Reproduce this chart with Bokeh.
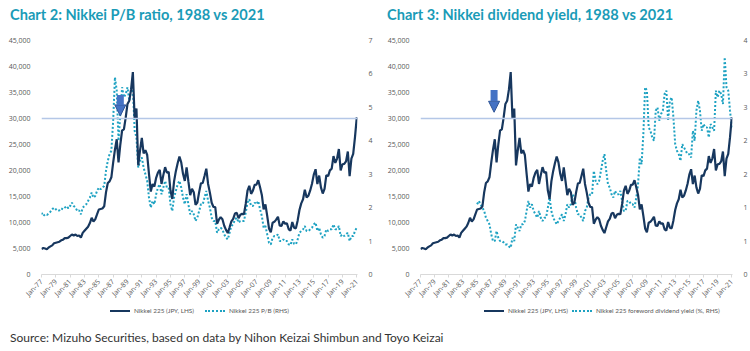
import numpy as np
from bokeh.plotting import figure
from bokeh.models import (Range1d, LinearAxis, FixedTicker, Span, Arrow, NormalHead,
                          Div, NumeralTickFormatter)
from bokeh.layouts import row, column
from bokeh.embed import file_html
from bokeh.resources import INLINE

# ---------------- data (quarterly) ----------------
NIKKEI_START = 1977
nikkei = [
    4900, 5100, 5000, 4870,
    5200, 5400, 5600, 6000,
    6100, 6200, 6300, 6570,
    6700, 7000, 7000, 7100,
    7400, 7700, 7500, 7680,
    7400, 7500, 7100, 8000,
    8400, 8800, 9200, 9900,
    10900, 10200, 10600, 11540,
    12500, 12600, 12700, 13110,
    15800, 17600, 17900, 18700,
    21500, 24000, 26000, 21560,
    25000, 27700, 27900, 30160,
    32800, 33400, 35600, 38915,
    29980, 31940, 20980, 23850,
    26290, 23290, 23900, 22980,
    19350, 15950, 17400, 16920,
    18590, 19590, 20100, 17420,
    19110, 20640, 19560, 19720,
    16140, 14520, 17910, 19870,
    21400, 22670, 21550, 19360,
    18000, 20600, 17900, 15260,
    16500, 15830, 13400, 13840,
    15840, 17530, 17600, 18930,
    20340, 17410, 15750, 13790,
    12990, 12970, 9770, 10540,
    11020, 10620, 9380, 8580,
    7970, 9080, 10220, 10680,
    11720, 11860, 10820, 11490,
    11670, 11580, 13570, 16110,
    17060, 15510, 16130, 17230,
    17290, 18140, 16790, 15310,
    12530, 13480, 11260, 8860,
    8110, 9960, 10130, 10550,
    11090, 9380, 9370, 10230,
    9760, 9820, 8700, 8460,
    10080, 9010, 8870, 10400,
    12400, 13680, 14460, 16290,
    14830, 15160, 16170, 17450,
    19210, 20240, 17390, 19030,
    16760, 15580, 16450, 19110,
    18910, 20030, 20360, 22760,
    21450, 22300, 24120, 20010,
    21210, 21280, 21760, 23660,
    18920, 22290, 23190, 26400,
    30200,
]
pb_ratio = [
    1.85, 1.75, 1.80, 1.78,
    1.82, 1.88, 1.95, 2.00,
    1.95, 1.90, 1.92, 1.98,
    1.95, 2.00, 2.05, 1.98,
    2.05, 2.15, 2.05, 2.00,
    1.90, 1.92, 1.80, 2.00,
    2.05, 2.10, 2.20, 2.30,
    2.45, 2.30, 2.35, 2.50,
    2.60, 2.55, 2.60, 2.65,
    3.10, 3.40, 3.60, 3.70,
    4.60, 5.90, 5.50, 4.00,
    4.80, 5.60, 5.30, 5.40,
    5.60, 5.20, 5.50, 5.60,
    4.30, 4.10, 3.20, 3.40,
    3.50, 3.20, 3.00, 2.80,
    2.30, 2.00, 2.20, 2.10,
    2.40, 2.60, 2.70, 2.40,
    2.60, 2.80, 2.60, 2.60,
    2.10, 1.90, 2.30, 2.50,
    2.70, 2.80, 2.60, 2.30,
    2.10, 2.40, 2.10, 1.80,
    1.90, 1.80, 1.60, 1.70,
    1.90, 2.10, 2.10, 2.30,
    2.50, 2.20, 2.00, 1.70,
    1.60, 1.60, 1.25, 1.35,
    1.40, 1.35, 1.20, 1.10,
    1.05, 1.25, 1.45, 1.50,
    1.65, 1.70, 1.55, 1.60,
    1.60, 1.60, 1.85, 2.15,
    2.25, 2.05, 2.05, 2.15,
    2.10, 2.20, 1.95, 1.75,
    1.40, 1.45, 1.20, 0.95,
    0.90, 1.10, 1.15, 1.15,
    1.20, 1.00, 1.00, 1.05,
    1.00, 1.00, 0.90, 0.88,
    1.05, 0.92, 0.90, 1.05,
    1.25, 1.30, 1.35, 1.45,
    1.30, 1.30, 1.35, 1.40,
    1.50, 1.55, 1.30, 1.40,
    1.20, 1.10, 1.15, 1.35,
    1.30, 1.35, 1.35, 1.50,
    1.35, 1.35, 1.45, 1.15,
    1.20, 1.15, 1.20, 1.25,
    1.00, 1.15, 1.15, 1.30,
    1.40,
]
DY_START = 1985
div_yield = [
    1.05, 1.10, 1.05, 1.00,
    0.95, 0.85, 0.80, 0.75,
    0.60, 0.50, 0.50, 0.65,
    0.55, 0.50, 0.50, 0.48,
    0.45, 0.45, 0.42, 0.40,
    0.55, 0.50, 0.75, 0.70,
    0.65, 0.75, 0.75, 0.80,
    0.95, 1.10, 1.00, 1.05,
    0.95, 0.90, 0.85, 0.95,
    0.85, 0.80, 0.85, 0.85,
    1.00, 1.15, 0.95, 0.85,
    0.80, 0.75, 0.80, 0.85,
    0.90, 0.80, 0.90, 1.05,
    1.00, 1.05, 1.20, 1.15,
    1.00, 0.90, 0.90, 0.85,
    0.80, 0.95, 1.00, 1.15,
    1.20, 1.20, 1.55, 1.40,
    1.35, 1.40, 1.55, 1.70,
    1.80, 1.55, 1.35, 1.30,
    1.20, 1.15, 1.25, 1.20,
    1.20, 1.25, 1.10, 0.95,
    0.95, 1.10, 1.10, 1.05,
    1.05, 1.00, 1.15, 1.35,
    1.75, 1.65, 2.10, 2.80,
    2.75, 2.20, 2.15, 2.05,
    2.00, 2.45, 2.50, 2.30,
    2.40, 2.45, 2.70, 2.75,
    2.30, 2.60, 2.65, 2.35,
    1.95, 1.85, 1.80, 1.70,
    1.95, 1.90, 1.85, 1.80,
    1.80, 1.75, 2.15, 2.00,
    2.45, 2.60, 2.45, 2.15,
    2.25, 2.20, 2.20, 2.05,
    2.25, 2.20, 2.15, 2.75,
    2.65, 2.75, 2.70, 2.55,
    3.25, 2.80, 2.75, 2.45,
    2.20,
]

x_ticks = list(range(1977, 2022, 2))
x_tick_labels = ["Jan-%02d" % (y % 100) for y in x_ticks]
lhs_ticks = list(range(0, 45001, 5000))
pb_ticks = [0, 1, 2, 3, 4, 5, 6, 7]
dy_ticks = [0, 0.5, 1.0, 1.5, 2.0, 2.5, 3.0, 3.5]
dy_tick_labels = ["0", "1", "1", "2", "2", "3", "3", "4"]
REF_LEVEL = 30000

legend_nikkei = "Nikkei 225 (JPY, LHS)"
legend_pb = "Nikkei 225 P/B (RHS)"
legend_dy = "Nikkei 225 foreword dividend yield (%, RHS)"

nikkei_x = NIKKEI_START + np.arange(len(nikkei)) / 4.0
dy_x = DY_START + np.arange(len(div_yield)) / 4.0

NAVY = "#17375e"
TEAL = "#1ea2c2"
TITLE_C = "#1a9bb7"
TICK_C = "#595959"
FONT = "Open Sans"


def make_chart(rhs_x, rhs_y, rhs_max, rhs_ticks, rhs_labels,
               arrow_x, arrow_y0, arrow_y1, bl, br):
    p = figure(width=375, height=277, output_backend="svg", toolbar_location=None,
               x_range=Range1d(1977, 2021.1), y_range=Range1d(0, 45000),
               min_border_left=bl, min_border_right=br, min_border_top=13,
               min_border_bottom=29)
    p.extra_y_ranges = {"rhs": Range1d(0, rhs_max)}
    p.outline_line_color = None
    p.xgrid.visible = False
    p.ygrid.visible = False
    p.background_fill_color = "white"
    p.border_fill_color = "white"

    xa = p.xaxis[0]
    xa.ticker = FixedTicker(ticks=x_ticks)
    xa.major_label_overrides = dict(zip(x_ticks, x_tick_labels))
    xa.major_label_orientation = np.pi / 4
    xa.axis_line_color = "#d9d9d9"
    xa.major_tick_line_color = "#d9d9d9"
    xa.major_tick_out = 3
    xa.major_tick_in = 0
    xa.minor_tick_line_color = None
    xa.major_label_standoff = 3

    ya = p.yaxis[0]
    ya.ticker = FixedTicker(ticks=lhs_ticks)
    ya.formatter = NumeralTickFormatter(format="0,0")

    ra = LinearAxis(y_range_name="rhs", ticker=FixedTicker(ticks=rhs_ticks))
    if rhs_labels is not None:
        ra.major_label_overrides = dict(zip(rhs_ticks, rhs_labels))
    p.add_layout(ra, "right")

    for ax in (ya, ra):
        ax.axis_line_color = None
        ax.major_tick_line_color = None
        ax.minor_tick_line_color = None
        ax.major_label_standoff = 5
    for ax in (xa, ya, ra):
        ax.major_label_text_font = FONT
        ax.major_label_text_font_size = "7px"
        ax.major_label_text_color = TICK_C

    p.add_layout(Span(location=REF_LEVEL, dimension="width",
                      line_color="#b4c7e7", line_width=1.5))

    p.line(rhs_x, rhs_y, y_range_name="rhs", line_color=TEAL,
           line_width=2, line_dash="2 2")
    p.line(nikkei_x, nikkei, line_color=NAVY, line_width=2.2)

    p.add_layout(Arrow(x_start=arrow_x, y_start=arrow_y0, x_end=arrow_x, y_end=arrow_y1,
                       line_color="#4472c4", line_width=7,
                       end=NormalHead(size=11, fill_color="#4472c4",
                                      line_color="#2f5597", line_width=1)))
    return p


p1 = make_chart(nikkei_x, pb_ratio, 7, pb_ticks, None,
                1988.0, 34500, 30500, 41, 10)
p2 = make_chart(dy_x, div_yield, 3.5, dy_ticks, dy_tick_labels,
                1987.4, 35500, 31200, 45, 18)

title_style = {"font-family": "Lato", "font-weight": "bold", "font-size": "14.6px",
               "color": TITLE_C, "line-height": "24px", "white-space": "nowrap"}
t1 = Div(text="Chart 2: Nikkei P/B ratio, 1988 vs 2021", width=365, height=24,
         margin=(3, 0, 0, 10), styles=title_style)
t2 = Div(text="Chart 3: Nikkei dividend yield, 1988 vs 2021", width=363, height=24,
         margin=(3, 0, 0, 12), styles=title_style)


def legend_html(items):
    parts = []
    for x0, kind, label in items:
        color = NAVY if kind == "solid" else TEAL
        style = "solid" if kind == "solid" else "dotted"
        parts.append(
            '<span style="position:absolute;left:%dpx;top:6px;width:20px;height:0;'
            'border-top:2px %s %s"></span>' % (x0, style, color))
        parts.append(
            '<span style="position:absolute;left:%dpx;top:1px;font-family:Lato;'
            'font-size:6.4px;line-height:12px;color:%s;white-space:nowrap">%s</span>'
            % (x0 + 24, TICK_C, label))
    return ('<div style="position:relative;width:750px;height:22px">'
            + "".join(parts) + "</div>")


leg = Div(text=legend_html([(110, "solid", legend_nikkei), (205, "dot", legend_pb),
                            (484, "solid", legend_nikkei), (572, "dot", legend_dy)]),
          width=750, height=22, margin=(0, 0, 0, 0))

src = Div(text="Source: Mizuho Securities, based on data by Nihon Keizai Shimbun and Toyo Keizai",
          width=740, height=25, margin=(0, 0, 0, 10),
          styles={"font-family": "Lato", "font-size": "12px", "color": "#333333",
                  "line-height": "24px", "white-space": "nowrap"})

layout = column(row(t1, t2), row(p1, p2), leg, src)
open("out.html", "w").write(file_html(layout, INLINE))
